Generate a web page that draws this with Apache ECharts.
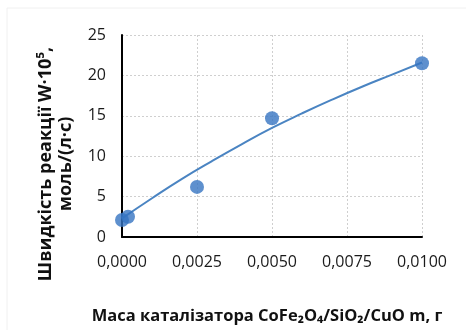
<!DOCTYPE html>
<html><head><meta charset="utf-8">
<script src="https://cdn.jsdelivr.net/npm/echarts@6/dist/echarts.min.js"></script>
<style>html,body{margin:0;padding:0;background:#fff}#c{width:466px;height:330px}</style>
</head><body><div id="c"></div>
<script>
// measured points
const massX = [0.0000, 0.0002, 0.0025, 0.0050, 0.0100];
const rateY = [2.1, 2.5, 6.2, 14.7, 21.5];
// trend line
const trendX = [0.000, 0.001, 0.002, 0.003, 0.004, 0.005, 0.006, 0.007, 0.008, 0.009, 0.010];
const trendY = [2.3, 4.8, 7.2, 9.4, 11.5, 13.5, 15.3, 17.0, 18.6, 20.1, 21.6];
const xTicks = [0, 0.0025, 0.005, 0.0075, 0.01];
const yTicks = [0, 5, 10, 15, 20, 25];

const font = '"Open Sans", "Noto Sans", sans-serif';
const chart = echarts.init(document.getElementById('c'));
chart.setOption({
  backgroundColor: '#fff',
  animation: false,
  grid: {left: 122, right: 44, top: 35, bottom: 92},
  xAxis: {
    type: 'value', min: xTicks[0], max: xTicks[xTicks.length-1], interval: 0.0025,
    axisLine: {show: true, lineStyle: {color: '#000', width: 2}},
    axisTick: {show: false},
    axisLabel: {color: '#1a1a1a', fontSize: 16, fontFamily: font, margin: 17,
      formatter: v => v.toFixed(4).replace('.', ',')},
    splitLine: {show: true, lineStyle: {color: '#cfcfcf', type: [2, 2], width: 1}},
    name: 'Маса каталізатора CoFe₂O₄/SiO₂/CuO m, г',
    nameLocation: 'middle', nameGap: 71,
    nameTextStyle: {color: '#111', fontSize: 16.5, fontWeight: 'bold', fontFamily: font, padding: [0, 10, 0, 0]}
  },
  yAxis: {
    type: 'value', min: yTicks[0], max: yTicks[yTicks.length-1], interval: 5,
    axisLine: {show: true, lineStyle: {color: '#000', width: 2}},
    axisTick: {show: false},
    axisLabel: {color: '#1a1a1a', fontSize: 16, fontFamily: font, margin: 16},
    splitLine: {show: true, lineStyle: {color: '#cfcfcf', type: [2, 2], width: 1}}
  },
  graphic: [{
    type: 'rect', shape: {x: 7, y: 8, width: 470, height: 340},
    style: {fill: 'none', stroke: '#f0f0f0', lineWidth: 1}, silent: true
  }, {
    type: 'text', x: 56, y: 164, rotation: Math.PI/2,
    style: {
      text: 'Швидкість реакції W·10⁵,\nмоль/(л·с)',
      fill: '#111', font: 'bold 18px ' + font, textAlign: 'center', textVerticalAlign: 'middle', lineHeight: 20
    }
  }],
  series: [
    {type: 'line', data: trendX.map((x, i) => [x, trendY[i]]), smooth: true, showSymbol: false,
     lineStyle: {color: '#4a84c2', width: 2}, z: 2},
    {type: 'scatter', data: massX.map((x, i) => [x, rateY[i]]), symbolSize: 14,
     itemStyle: {color: '#3674c2'}, z: 3}
  ]
});
</script></body></html>
